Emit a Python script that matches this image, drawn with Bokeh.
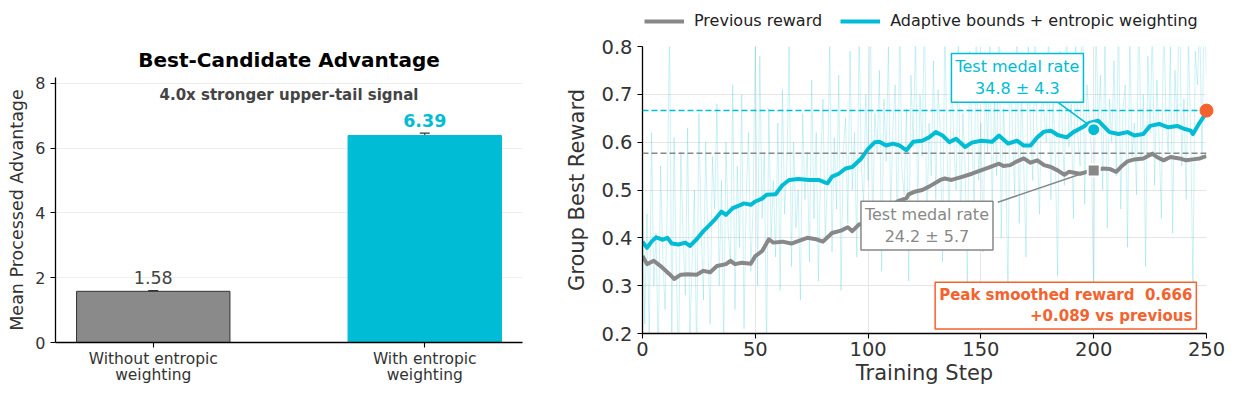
from bokeh.plotting import figure
from bokeh.layouts import row, column
from bokeh.models import (Label, Legend, LegendItem, FixedTicker, Whisker,
                          ColumnDataSource, Span, TeeHead)
from bokeh.embed import file_html
from bokeh.resources import INLINE

# ---------------- data ----------------
categories = ["Without entropic\nweighting", "With entropic\nweighting"]
adv_means = [1.58, 6.39]
adv_errs = [0.02, 0.07]
speedup_text = "4.0x stronger upper-tail signal"

steps_raw = list(range(251))
adaptive_raw = [
    0.52, 0.22, 0.45, 0.18, 0.62, 0.30, 0.41, 0.15, 0.55, 0.36,
    0.25, 0.48, 0.85, 0.20, 0.61, 0.33, 0.12, 0.58, 0.40, 0.28,
    0.63, 0.19, 0.35, 0.50, 0.14, 0.66, 0.42, 0.27, 0.60, 0.38,
    0.22, 0.57, 0.46, 0.68, 0.30, 0.52, 0.18, 0.60, 0.41, 0.35,
    0.72, 0.25, 0.55, 0.38, 0.70, 0.21, 0.49, 0.62, 0.33, 0.46,
    0.83, 0.30, 0.78, 0.44, 0.58, 0.16, 0.67, 0.40, 0.52, 0.36,
    0.64, 0.29, 0.71, 0.45, 0.55, 0.80, 0.34, 0.60, 0.42, 0.50,
    0.27, 0.66, 0.48, 0.58, 0.35, 0.73, 0.44, 0.62, 0.31, 0.56,
    0.69, 0.40, 0.52, 0.81, 0.37, 0.61, 0.46, 0.74, 0.29, 0.58,
    0.65, 0.43, 0.79, 0.50, 0.62, 0.36, 0.84, 0.55, 0.47, 0.70,
    0.52, 0.88, 0.41, 0.66, 0.58, 0.75, 0.33, 0.69, 0.56, 0.80,
    0.45, 0.63, 0.72, 0.38, 0.86, 0.54, 0.49, 0.67, 0.31, 0.74,
    0.59, 0.82, 0.46, 0.70, 0.57, 0.90, 0.40, 0.64, 0.53, 0.77,
    0.48, 0.71, 0.62, 0.35, 0.85, 0.58, 0.44, 0.76, 0.60, 0.50,
    0.83, 0.42, 0.66, 0.55, 0.30, 0.79, 0.61, 0.47, 0.88, 0.52,
    0.64, 0.37, 0.74, 0.58, 0.81, 0.45, 0.69, 0.53, 0.92, 0.40,
    0.67, 0.56, 0.28, 0.78, 0.62, 0.49, 0.85, 0.43, 0.71, 0.55,
    0.36, 0.80, 0.63, 0.52, 0.89, 0.58, 0.45, 0.75, 0.66, 0.60,
    0.84, 0.48, 0.70, 0.57, 0.32, 0.79, 0.64, 0.51, 0.87, 0.59,
    0.68, 0.44, 0.82, 0.61, 0.55, 0.93, 0.47, 0.72, 0.65, 0.58,
    0.26, 0.86, 0.63, 0.74, 0.50, 0.81, 0.42, 0.69, 0.60, 0.77,
    0.53, 0.88, 0.46, 0.67, 0.72, 0.38, 0.83, 0.57, 0.64, 0.49,
    0.91, 0.56, 0.70, 0.34, 0.78, 0.62, 0.85, 0.51, 0.73, 0.60,
    0.44, 0.87, 0.66, 0.58, 0.80, 0.41, 0.75, 0.63, 0.94, 0.55,
    0.69, 0.48, 0.82, 0.61, 0.30, 0.79, 0.72, 0.86, 0.57, 0.90,
    0.74,
]

adaptive_steps = [0, 2, 4, 6, 9, 11, 13, 16, 19, 21, 24, 27, 30, 32, 35, 37, 40, 43, 45, 48,
                  50, 53, 55, 59, 62, 65, 69, 74, 78, 82, 84, 87, 90, 93, 97, 100, 103, 105, 108, 111,
                  114, 117, 120, 124, 127, 130, 133, 136, 139, 143, 146, 150, 155, 158, 162, 166, 169, 172, 175, 178,
                  181, 184, 188, 191, 195, 198, 202, 207, 211, 215, 218, 222, 225, 229, 233, 237, 240, 243, 244, 247,
                  249, 250]
adaptive_smooth = [0.392, 0.379, 0.392, 0.401, 0.396, 0.400, 0.388, 0.386, 0.390, 0.383,
                   0.397, 0.414, 0.428, 0.438, 0.455, 0.448, 0.462, 0.468, 0.472, 0.469,
                   0.476, 0.482, 0.490, 0.491, 0.510, 0.521, 0.523, 0.521, 0.521, 0.514,
                   0.528, 0.534, 0.545, 0.548, 0.566, 0.586, 0.600, 0.601, 0.593, 0.597,
                   0.593, 0.583, 0.601, 0.603, 0.610, 0.621, 0.614, 0.600, 0.607, 0.590,
                   0.599, 0.603, 0.601, 0.614, 0.597, 0.603, 0.593, 0.593, 0.610, 0.622,
                   0.624, 0.615, 0.610, 0.621, 0.631, 0.640, 0.645, 0.621, 0.617, 0.621,
                   0.614, 0.617, 0.634, 0.638, 0.631, 0.634, 0.628, 0.624, 0.617, 0.641,
                   0.655, 0.666]

previous_steps = [0, 2, 5, 8, 12, 14, 17, 20, 24, 27, 30, 33, 37, 39, 41, 44, 48, 50, 53, 56,
                  58, 62, 66, 69, 73, 77, 80, 84, 88, 91, 93, 96, 100, 104, 108, 113, 117, 118, 121, 124,
                  127, 132, 134, 137, 142, 146, 150, 154, 158, 160, 163, 166, 169, 172, 175, 178, 181, 184, 187, 189,
                  194, 197, 200, 204, 207, 210, 212, 215, 218, 222, 226, 228, 231, 234, 238, 241, 244, 247, 250]
previous_smooth = [0.362, 0.345, 0.352, 0.341, 0.324, 0.314, 0.323, 0.324, 0.323, 0.331,
                   0.328, 0.341, 0.345, 0.352, 0.345, 0.348, 0.346, 0.362, 0.372, 0.397,
                   0.390, 0.392, 0.388, 0.393, 0.400, 0.397, 0.392, 0.410, 0.415, 0.422,
                   0.414, 0.428, 0.432, 0.445, 0.455, 0.476, 0.483, 0.491, 0.497, 0.500,
                   0.507, 0.521, 0.524, 0.521, 0.528, 0.534, 0.541, 0.548, 0.555, 0.550,
                   0.552, 0.560, 0.566, 0.557, 0.562, 0.552, 0.548, 0.541, 0.532, 0.538,
                   0.534, 0.538, 0.540, 0.545, 0.544, 0.538, 0.548, 0.560, 0.564, 0.566,
                   0.576, 0.569, 0.562, 0.569, 0.566, 0.562, 0.564, 0.566, 0.571]

peak_adaptive = 0.666
peak_previous = 0.577
medal_step = 200
adaptive_medal_point = 0.626
previous_medal_point = 0.541
adaptive_medal_text = "Test medal rate\n34.8 ± 4.3"
previous_medal_text = "Test medal rate\n24.2 ± 5.7"
peak_text = "Peak smoothed reward\u00a0 0.666\n+0.089 vs previous"
series_names = ["Previous reward", "Adaptive bounds + entropic weighting"]

# callout placement (data coords)
adaptive_box = (166.2, 0.7344)
previous_box = (126.1, 0.4255)
adaptive_leader = (182.8, 0.688, 199.0, 0.632)
previous_leader = (157.5, 0.4745, 194.0, 0.533)
peak_box = (245.5, 0.2583)

# ---------------- style ----------------
FONT = "DejaVu Sans"
CYAN = "#00bcd4"
GRAY = "#888888"
ORANGE = "#f4622e"
TXT = "#333333"
LBL = "#444444"


def style_axes(p, tick_size, label_size):
    for ax in (p.xaxis, p.yaxis):
        ax.axis_line_color = "black"
        ax.axis_line_width = 1.3
        ax.major_tick_line_color = "black"
        ax.major_tick_line_width = 1.1
        ax.major_tick_out = 5
        ax.major_tick_in = 0
        ax.minor_tick_line_color = None
        ax.major_label_text_font = FONT
        ax.major_label_text_font_size = tick_size
        ax.major_label_text_color = TXT
        ax.axis_label_text_font = FONT
        ax.axis_label_text_font_size = label_size
        ax.axis_label_text_font_style = "normal"
        ax.axis_label_text_color = TXT
    p.outline_line_color = None


# ---------------- left: bars ----------------
p1 = figure(width=556, height=387, x_range=(-0.36, 1.36), y_range=(0, 8.18),
            output_backend="svg", toolbar_location=None,
            min_border_left=55, min_border_right=34, min_border_top=77, min_border_bottom=40)
xs = list(range(len(categories)))
p1.vbar(x=xs[0], top=adv_means[0], width=0.565, fill_color="#8a8a8a", line_color="#333333", line_width=1)
p1.vbar(x=xs[1], top=adv_means[1], width=0.565, fill_color=CYAN, line_color=CYAN, line_width=1)
src = ColumnDataSource(dict(x=xs, lo=[m - e for m, e in zip(adv_means, adv_errs)],
                            hi=[m + e for m, e in zip(adv_means, adv_errs)]))
wh = Whisker(source=src, base="x", lower="lo", upper="hi", line_color="#333333", line_width=1.2,
             upper_head=TeeHead(size=10, line_color="#333333", line_width=1.2),
             lower_head=TeeHead(size=10, line_color="#333333", line_width=1.2))
p1.add_layout(wh)

p1.title.text = "Best-Candidate Advantage"
p1.title.align = "center"
p1.title.text_font = FONT
p1.title.text_font_size = "20px"
p1.title.text_font_style = "bold"
p1.title.text_color = "black"
p1.title.standoff = 11

style_axes(p1, "16px", "17.5px")
p1.yaxis.axis_label = "Mean Processed Advantage"
p1.yaxis.ticker = FixedTicker(ticks=[0, 2, 4, 6, 8])
p1.xaxis.ticker = FixedTicker(ticks=xs)
p1.xaxis.major_label_overrides = {i: c for i, c in zip(xs, categories)}
p1.xaxis.major_label_text_font_size = "15.5px"
p1.xaxis.major_label_text_line_height = 0.92
p1.xaxis.major_label_standoff = 2
p1.xgrid.grid_line_color = None
p1.ygrid.grid_line_color = "#eeeeee"
p1.ygrid.ticker = FixedTicker(ticks=[2, 4, 6, 8])

p1.add_layout(Label(x=xs[0], y=adv_means[0] + adv_errs[0] + 0.2, text=f"{adv_means[0]:.2f}",
                    text_align="center", text_baseline="bottom", text_font=FONT,
                    text_font_size="17.5px", text_color=LBL))
p1.add_layout(Label(x=xs[1], y=adv_means[1] + adv_errs[1] + 0.2, text=f"{adv_means[1]:.2f}",
                    text_align="center", text_baseline="bottom", text_font=FONT,
                    text_font_size="17.5px", text_font_style="bold", text_color=CYAN))
p1.add_layout(Label(x=0.5, y=7.65, text=speedup_text, text_align="center", text_baseline="middle",
                    text_font=FONT, text_font_size="15px", text_font_style="bold", text_color=LBL))

# ---------------- right: reward curves ----------------
p2 = figure(width=670, height=353, x_range=(0, 250), y_range=(0.2, 0.8),
            output_backend="svg", toolbar_location=None,
            min_border_left=86, min_border_right=20, min_border_top=12, min_border_bottom=54)
p2.title = None
style_axes(p2, "19.5px", "21px")
p2.xaxis.axis_label = "Training Step"
p2.yaxis.axis_label = "Group Best Reward"
p2.xaxis.ticker = FixedTicker(ticks=[0, 50, 100, 150, 200, 250])
p2.yaxis.ticker = FixedTicker(ticks=[0.2, 0.3, 0.4, 0.5, 0.6, 0.7, 0.8])
p2.xgrid.grid_line_color = "#e6e6e6"
p2.ygrid.grid_line_color = "#e6e6e6"
p2.xaxis.axis_label_standoff = 2
p2.xaxis.major_label_standoff = 3
p2.yaxis.axis_label_standoff = 9

p2.line(steps_raw, adaptive_raw, line_color=CYAN, line_alpha=0.2, line_width=1)
p2.add_layout(Span(location=peak_adaptive, dimension="width", line_color=CYAN, line_dash="6 3",
                   line_width=1.5))
p2.add_layout(Span(location=peak_previous, dimension="width", line_color=GRAY, line_dash="6 3",
                   line_width=1.5))
p2.line(previous_steps, previous_smooth, line_color=GRAY, line_width=4, line_join="round")
p2.line(adaptive_steps, adaptive_smooth, line_color=CYAN, line_width=4, line_join="round")

p2.segment(x0=[adaptive_leader[0]], y0=[adaptive_leader[1]], x1=[adaptive_leader[2]], y1=[adaptive_leader[3]],
           line_color=CYAN, line_width=1.5)
p2.segment(x0=[previous_leader[0]], y0=[previous_leader[1]], x1=[previous_leader[2]], y1=[previous_leader[3]],
           line_color=GRAY, line_width=1.5)
p2.scatter([medal_step], [adaptive_medal_point], marker="circle", size=13, fill_color=CYAN,
           line_color="white", line_width=2)
p2.scatter([medal_step], [previous_medal_point], marker="square", size=12, fill_color=GRAY,
           line_color="white", line_width=2)
p2.scatter([adaptive_steps[-1]], [peak_adaptive], marker="circle", size=13, fill_color=ORANGE,
           line_color=ORANGE, level="overlay")

p2.add_layout(Label(x=adaptive_box[0], y=adaptive_box[1], text=adaptive_medal_text,
                    text_align="center", text_baseline="middle", text_font=FONT, text_font_size="16px",
                    text_color=CYAN, border_line_color=CYAN, border_line_width=1.5,
                    background_fill_color="white", padding=4, text_line_height=1.15))
p2.add_layout(Label(x=previous_box[0], y=previous_box[1], text=previous_medal_text,
                    text_align="center", text_baseline="middle", text_font=FONT, text_font_size="16px",
                    text_color=GRAY, border_line_color=GRAY, border_line_width=1.5,
                    background_fill_color="white", padding=4, text_line_height=1.15))
p2.add_layout(Label(x=peak_box[0], y=peak_box[1], text=peak_text,
                    text_align="right", text_baseline="middle", text_font=FONT, text_font_size="15px",
                    text_font_style="bold", text_color=ORANGE, border_line_color=ORANGE,
                    border_line_width=1.5, background_fill_color="white", padding=4,
                    text_line_height=1.15))

# ---------------- legend strip above the right panel ----------------
lf = figure(width=670, height=34, x_range=(0, 1), y_range=(0, 1), output_backend="svg",
            toolbar_location=None, min_border=0)
lf.title = None
lf.axis.visible = False
lf.grid.visible = False
lf.outline_line_color = None
k_prev = lf.line([-5, -4], [-5, -4], line_color=GRAY, line_width=4)
k_adap = lf.line([-5, -4], [-5, -4], line_color=CYAN, line_width=4)
legend = Legend(items=[LegendItem(label=series_names[0], renderers=[k_prev]),
                       LegendItem(label=series_names[1], renderers=[k_adap])],
                orientation="horizontal", location=(2, 4),
                label_text_font=FONT, label_text_font_size="16px", label_text_color="#222222",
                glyph_width=40, glyph_height=16, label_standoff=10, spacing=18,
                padding=0, margin=0, border_line_alpha=0, background_fill_alpha=0)
lf.add_layout(legend, "center")

layout = row(p1, column(lf, p2))
open("out.html", "w").write(file_html(layout, INLINE))
